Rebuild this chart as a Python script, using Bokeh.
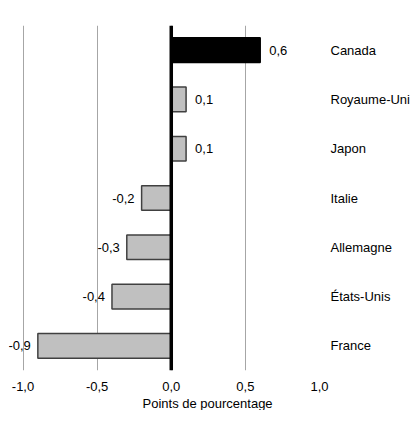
from bokeh.plotting import figure
from bokeh.models import Range1d, FactorRange, FixedTicker, Span, ColumnDataSource, LabelSet, Title
from bokeh.core.properties import value
from bokeh.embed import file_html
from bokeh.resources import INLINE

countries = ["Canada", "Royaume-Uni", "Japon", "Italie", "Allemagne", "États-Unis", "France"]
values = [0.6, 0.1, 0.1, -0.2, -0.3, -0.4, -0.9]
value_labels = ["0,6", "0,1", "0,1", "-0,2", "-0,3", "-0,4", "-0,9"]
tick_values = [-1.0, -0.5, 0.0, 0.5, 1.0]
tick_labels = ["-1,0", "-0,5", "0,0", "0,5", "1,0"]
x_title = "Points de pourcentage"

FONT = "Liberation Sans"

fills = ["#000000" if c == "Canada" else "#c0c0c0" for c in countries]
lines = ["#000000" if c == "Canada" else "#404040" for c in countries]

pos = [v >= 0 for v in values]
src_bars = ColumnDataSource(dict(y=countries, right=values, fill=fills, line=lines))
src_pos = ColumnDataSource(dict(
    y=[c for c, p in zip(countries, pos) if p],
    x=[v for v, p in zip(values, pos) if p],
    t=[t for t, p in zip(value_labels, pos) if p]))
src_neg = ColumnDataSource(dict(
    y=[c for c, p in zip(countries, pos) if not p],
    x=[v for v, p in zip(values, pos) if not p],
    t=[t for t, p in zip(value_labels, pos) if not p]))

p = figure(
    frame_width=311, frame_height=345,
    x_range=Range1d(-1.098, 1.0),
    y_range=FactorRange(*list(reversed(countries))),
    y_axis_location="right",
    output_backend="svg", toolbar_location=None,
    min_border_left=8, min_border_top=25, min_border_right=0,
    min_border_bottom=0,
)
p.outline_line_color = None
p.background_fill_color = "white"

p.hbar(y="y", right="right", left=0, height=0.5, source=src_bars,
       fill_color="fill", line_color="line", line_width=1.5)

p.add_layout(Span(location=0, dimension="height", line_color="black", line_width=3.5))

p.add_layout(LabelSet(x="x", y="y", text="t", source=src_pos, x_offset=9,
                      text_align="left", text_baseline="middle",
                      text_font=value(FONT), text_font_size=value("13px"),
                      text_color=value("#000000")))
p.add_layout(LabelSet(x="x", y="y", text="t", source=src_neg, x_offset=-7,
                      text_align="right", text_baseline="middle",
                      text_font=value(FONT), text_font_size=value("13px"),
                      text_color=value("#000000")))

# axis title, centred under the whole chart (plot + category names)
p.add_layout(Title(text=x_title, align="left", offset=134, standoff=0,
                   text_font=FONT, text_font_size="13px",
                   text_font_style="normal", text_color="#000000"), "below")

# x axis
p.xaxis.ticker = FixedTicker(ticks=tick_values)
p.xaxis.major_label_overrides = {v: l for v, l in zip(tick_values, tick_labels)}
p.xaxis.axis_line_color = None
p.xaxis.major_tick_line_color = None
p.xaxis.minor_tick_line_color = None
p.xaxis.major_label_standoff = 5
p.xaxis.major_label_text_font = FONT
p.xaxis.major_label_text_font_size = "13px"
p.xaxis.major_label_text_color = "#000000"

# y axis (right, category names)
p.yaxis.axis_line_color = None
p.yaxis.major_tick_line_color = None
p.yaxis.minor_tick_line_color = None
p.yaxis.major_label_standoff = 5
p.yaxis.major_label_text_font = FONT
p.yaxis.major_label_text_font_size = "13px"
p.yaxis.major_label_text_color = "#000000"

p.xgrid.ticker = FixedTicker(ticks=tick_values)
p.xgrid.grid_line_color = "#a6a6a6"
p.xgrid.grid_line_width = 1
p.ygrid.grid_line_color = None

open("out.html", "w").write(file_html(p, INLINE))
